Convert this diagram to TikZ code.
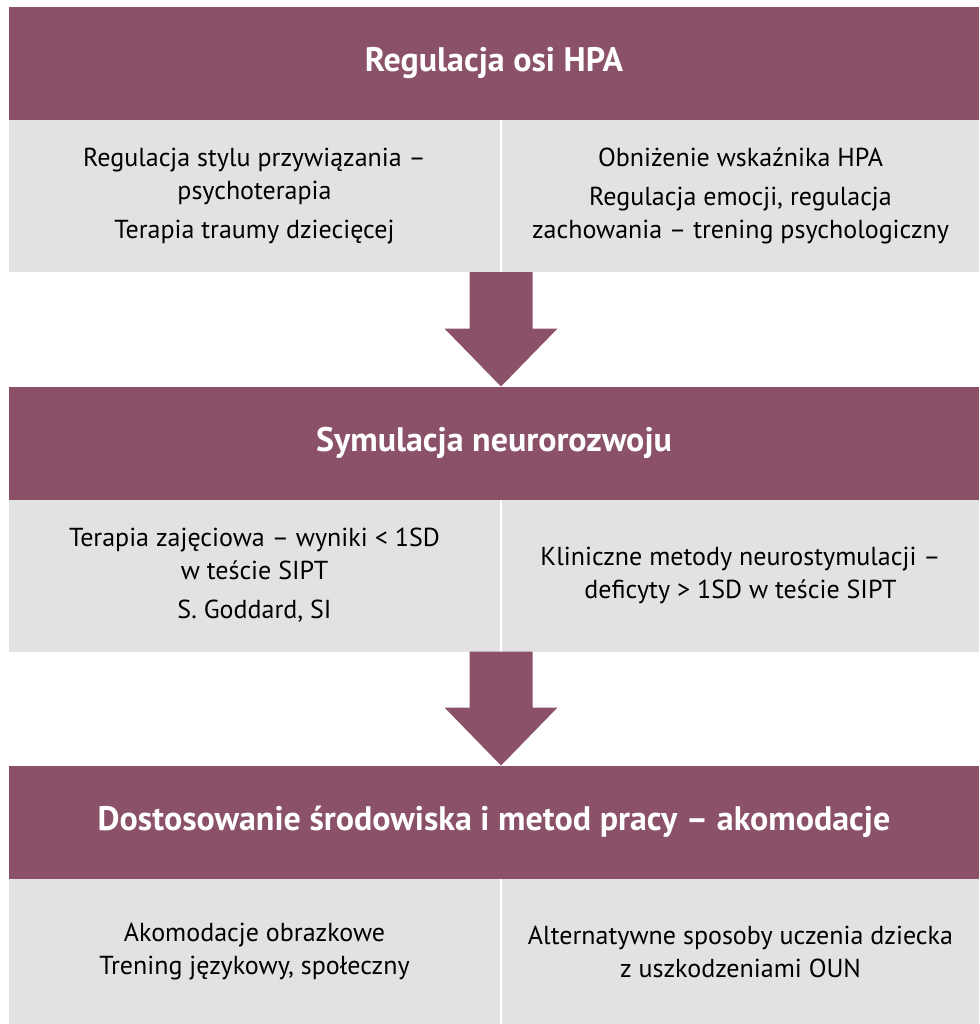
\documentclass[tikz,border=0pt]{standalone}
\usepackage{fontspec}
\setmainfont{PT Sans}
\usetikzlibrary{calc}
\definecolor{plum}{HTML}{8A5169}
\definecolor{cellgrey}{HTML}{E2E2E2}
\tikzset{header/.style={fill=plum, text=white, font=\bfseries\fontsize{34}{40}\selectfont,
  minimum width=970pt, minimum height=113pt, inner sep=0pt, outer sep=0pt},
% grey cells under each header
cell/.style={fill=cellgrey, minimum height=152pt, inner sep=0pt, outer sep=0pt},
celltext/.style={align=center, font=\fontsize{26}{33}\selectfont, inner sep=0pt}}

\begin{document}
\begin{tikzpicture}[x=1pt, y=-1pt]
\useasboundingbox (0,0) rectangle (979,1024);

% first level
\node[header] (h1) at (494,63.5) {Regulacja osi HPA};
\node[cell, minimum width=491pt, anchor=north west] (c1l) at (h1.south west) {};
\node[cell, minimum width=477pt, anchor=north east] (c1r) at (h1.south east) {};
\node[celltext] (t1l) at (c1l) {Regulacja stylu przywiązania –\\psychoterapia\\[6pt]Terapia traumy dziecięcej};
\node[celltext] (t1r) at (c1r) {Obniżenie wskaźnika HPA\\[6pt]Regulacja emocji, regulacja\\zachowania – trening psychologiczny};

% second level
\node[header] (h2) at (494,443) {Symulacja neurorozwoju};
\node[cell, minimum width=491pt, anchor=north west] (c2l) at (h2.south west) {};
\node[cell, minimum width=477pt, anchor=north east] (c2r) at (h2.south east) {};
\node[celltext] (t2l) at (c2l) {Terapia zajęciowa – wyniki < 1SD\\w teście SIPT\\[6pt]S. Goddard, SI};
\node[celltext] (t2r) at (c2r) {Kliniczne metody neurostymulacji –\\deficyty > 1SD w teście SIPT};

% third level
\node[header] (h3) at (494,822) {Dostosowanie środowiska i metod pracy – akomodacje};
\node[cell, minimum width=491pt, minimum height=146pt, anchor=north west] (c3l) at (h3.south west) {};
\node[cell, minimum width=477pt, minimum height=146pt, anchor=north east] (c3r) at (h3.south east) {};
\node[celltext] (t3l) at (c3l) {Akomodacje obrazkowe\\Trening językowy, społeczny};
\node[celltext] (t3r) at (c3r) {Alternatywne sposoby uczenia dziecka\\z uszkodzeniami OUN};

% block arrows
\foreach \lft/\rgt/\nxt in {c1l/c1r/h2, c2l/c2r/h3}{
  \coordinate (a) at ($(\lft.south east)!0.5!(\rgt.south west)$);
  \coordinate (b) at (a |- \nxt.north);
  \fill[plum] ($(a)+(-31.5,0)$) -- ($(a)+(31.5,0)$) -- ($(b)+(31.5,-58)$) -- ($(b)+(56.5,-58)$)
    -- (b) -- ($(b)+(-56.5,-58)$) -- ($(b)+(-31.5,-58)$) -- cycle;
}
\end{tikzpicture}
\end{document}
